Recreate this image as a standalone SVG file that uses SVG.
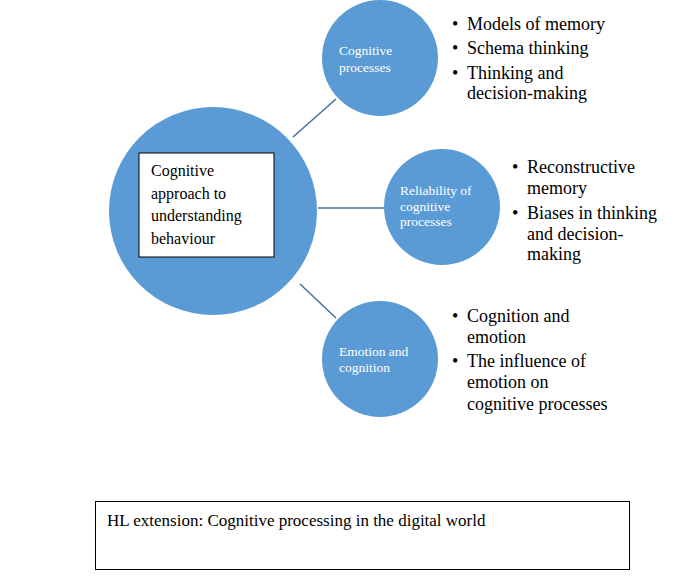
<svg xmlns="http://www.w3.org/2000/svg" width="682" height="576" viewBox="0 0 682 576">
<style>
.c{fill:#5b9bd5}
.ct{font-family:"Liberation Serif",serif;font-size:13.5px;fill:#fff}
.t{font-family:"Liberation Serif",serif;font-size:18px;fill:#000}
.b{font-family:"Liberation Serif",serif;font-size:16px;fill:#000}
.ln{stroke:#41719c;stroke-width:1.5}
</style>
<rect width="682" height="576" fill="#fff"/>
<g id="connectors">
<line class="ln" x1="293" y1="137" x2="336" y2="99"/>
<line class="ln" x1="318" y1="208" x2="384" y2="208"/>
<line class="ln" x1="300" y1="284" x2="336" y2="318"/>
</g>
<g id="main">
<circle class="c" cx="213" cy="211" r="104"/>
<rect x="139" y="153" width="135" height="104" fill="#fff" stroke="#000" stroke-width="1"/>
<text class="b" x="151" y="176">Cognitive</text>
<text class="b" x="151" y="199">approach to</text>
<text class="b" x="151" y="221">understanding</text>
<text class="b" x="151" y="244">behaviour</text>
</g>
<g id="n1">
<circle class="c" cx="380" cy="58" r="58"/>
<text class="ct" x="339" y="55">Cognitive</text>
<text class="ct" x="339" y="72">processes</text>
<text class="t" x="452" y="30">•</text><text class="t" x="467" y="30">Models of memory</text>
<text class="t" x="452" y="54">•</text><text class="t" x="467" y="54">Schema thinking</text>
<text class="t" x="452" y="79">•</text><text class="t" x="467" y="79">Thinking and</text>
<text class="t" x="467" y="99">decision-making</text>
</g>
<g id="n2">
<circle class="c" cx="442" cy="207" r="58"/>
<text class="ct" x="400" y="195">Reliability of</text>
<text class="ct" x="400" y="211">cognitive</text>
<text class="ct" x="400" y="226">processes</text>
<text class="t" x="512" y="173">•</text><text class="t" x="527" y="173">Reconstructive</text>
<text class="t" x="527" y="194">memory</text>
<text class="t" x="512" y="219">•</text><text class="t" x="527" y="219">Biases in thinking</text>
<text class="t" x="527" y="240">and decision-</text>
<text class="t" x="527" y="260">making</text>
</g>
<g id="n3">
<circle class="c" cx="380" cy="359" r="58"/>
<text class="ct" x="339" y="356">Emotion and</text>
<text class="ct" x="339" y="372">cognition</text>
<text class="t" x="452" y="322">•</text><text class="t" x="467" y="322">Cognition and</text>
<text class="t" x="467" y="343">emotion</text>
<text class="t" x="452" y="367">•</text><text class="t" x="467" y="367">The influence of</text>
<text class="t" x="467" y="388">emotion on</text>
<text class="t" x="467" y="410">cognitive processes</text>
</g>
<g id="hl">
<rect x="95.5" y="501.5" width="534" height="68" fill="#fff" stroke="#000" stroke-width="1"/>
<text class="b" x="107" y="526" style="font-size:17px">HL extension: Cognitive processing in the digital world</text>
</g>
</svg>
